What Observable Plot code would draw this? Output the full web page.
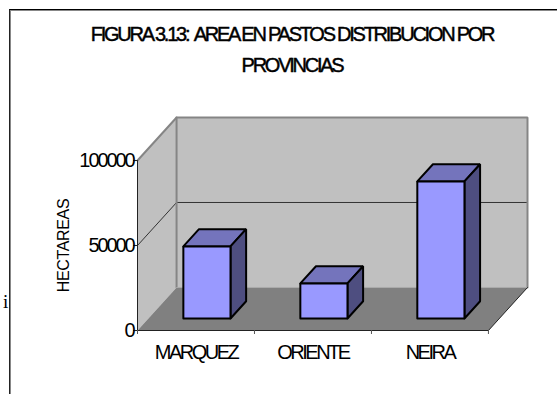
<!DOCTYPE html>
<html>
<head>
<meta charset="utf-8">
<script src="https://cdn.jsdelivr.net/npm/d3@7"></script>
<script src="https://cdn.jsdelivr.net/npm/@observablehq/plot@0.6"></script>
<style>
  html, body { margin: 0; padding: 0; background: #fff; overflow: hidden; }
  #page { position: relative; width: 557px; height: 394px; overflow: hidden; font-family: "Liberation Sans", Arial, sans-serif; color: #000; }
  #frame { position: absolute; left: 9px; top: 9px; width: 560px; height: 400px; border-top: 1px solid #000; border-left: 1px solid #222; box-shadow: inset 1px 1px 0 #888; }
  #title { position: absolute; left: 0; top: 19px; width: 584px; text-align: center; font-size: 20px; line-height: 31px; letter-spacing: -2.25px; word-spacing: 0; -webkit-text-stroke: 0.45px #000; white-space: nowrap; }
  #stray { position: absolute; left: 3px; top: 291px; font: 19px "Liberation Serif", serif; line-height: 22px; }
  #chart { position: absolute; left: 0; top: 100px; }
  #chart svg { display: block; }
</style>
</head>
<body>
<div id="page">
  <div id="frame"></div>
  <div id="title">FIGURA 3.13:&nbsp; AREA EN PASTOS DISTRIBUCION POR<br>PROVINCIAS</div>
  <div id="stray">i</div>
  <div id="chart"></div>
</div>
<script>
// Hectares of pasture per province
const provinces = ["MARQUEZ", "ORIENTE", "NEIRA"];
const hectares = [42400, 20600, 80600];
const valueTicks = [0, 50000, 100000];
const slotTicks = [0, 1, 2, 3];

// Oblique 3D box: depth 1 is the back wall, shifted along both axes
const depthX = 0.334;
const depthY = 25300;
const maxValue = 100000;
const barWidth = 0.403;
const barNear = 0.28;
const barFar = 0.68;

const colors = {
  wall: "#c0c0c0", floor: "#808080", edge: "#858585", grid: "#333333",
  barFront: "#9999ff", barTop: "#7474bc", barSide: "#4e4e80"
};

const at = (u, v, d) => ({x: u + d * depthX, y: v + d * depthY});
const closed = (pts) => [...pts, pts[0]];

// Panels of the box
const leftWall = closed([at(0, 0, 0), at(0, maxValue, 0), at(0, maxValue, 1), at(0, 0, 1)]);
const backWall = closed([at(0, 0, 1), at(0, maxValue, 1), at(3, maxValue, 1), at(3, 0, 1)]);
const floor = closed([at(0, 0, 0), at(3, 0, 0), at(3, 0, 1), at(0, 0, 1)]);

const panel = (pts, fill, stroke = "none", strokeWidth = 1) =>
  Plot.line(pts, {x: "x", y: "y", fill, stroke, strokeWidth, strokeLinejoin: "miter", curve: "linear"});

const barMarks = provinces.flatMap((name, i) => {
  const l = i + 0.5 - barWidth / 2;
  const r = i + 0.5 + barWidth / 2;
  const v = hectares[i];
  return [
    panel(closed([at(l, v, barNear), at(l, v, barFar), at(r, v, barFar), at(r, v, barNear)]), colors.barTop, "#000", 2),
    panel(closed([at(r, 0, barNear), at(r, v, barNear), at(r, v, barFar), at(r, 0, barFar)]), colors.barSide, "#000", 2),
    panel(closed([at(l, 0, barNear), at(l, v, barNear), at(r, v, barNear), at(r, 0, barNear)]), colors.barFront, "#000", 2)
  ];
});

const chart = Plot.plot({
  width: 557,
  height: 294,
  marginLeft: 137,
  marginRight: 30,
  marginTop: 17,
  marginBottom: 64,
  style: {background: "transparent", overflow: "visible"},
  x: {type: "linear", domain: [0, 3 + depthX], axis: null},
  y: {type: "linear", domain: [0, maxValue + depthY], axis: null},
  marks: [
    panel(leftWall, colors.wall),
    panel(backWall, colors.wall),
    panel(floor, colors.floor),
    // Gridline at 50000 across both walls
    panel([at(0, 50000, 0), at(0, 50000, 1), at(3, 50000, 1)], "none", colors.grid, 1),
    // Outer edges of the walls
    panel([at(0, maxValue, 0), at(0, maxValue, 1), at(3, maxValue, 1), at(3, 0, 1)], "none", colors.edge, 2),
    panel([at(0, 0, 1), at(0, maxValue, 1)], "none", colors.edge, 2),
    panel([at(0, 0, 1), at(3, 0, 1)], "none", "#aaaaaa", 1),
    // Front edges of the floor and the value axis
    panel([at(0, maxValue, 0), at(0, 0, 0), at(3, 0, 0), at(3, 0, 1)], "none", "#222222", 1),
    ...barMarks,
    Plot.axisY({
      ticks: valueTicks, tickSize: 4, tickPadding: 0, tickFormat: (d) => String(d),
      fontSize: 20, stroke: "#222", textStroke: "none",
      label: null
    }),
    Plot.axisX({ticks: slotTicks, tickSize: 4, tickFormat: () => "", stroke: "#555", label: null}),
    Plot.text(provinces, {
      x: (d, i) => i + 0.5, y: 0, text: (d) => d,
      dx: 0, dy: 22, fontSize: 20, fill: "#000"
    }),
    Plot.text(["HECTAREAS"], {
      x: 0, y: 50000, text: (d) => d, rotate: -90,
      dx: -74, dy: 0, fontSize: 16, fill: "#000"
    })
  ]
});

// Tight tracking: value labels, category labels, axis title
const tracking = (text) => text === "HECTAREAS" ? "-0.35px" : provinces.includes(text) ? "-2.5px" : "-2.1px";
d3.select(chart).selectAll("text").each(function () {
  this.style.letterSpacing = tracking(this.textContent);
});
chart.style.fontFamily = '"Liberation Sans", Arial, sans-serif';

document.getElementById("chart").appendChild(chart);
</script>
</body>
</html>
